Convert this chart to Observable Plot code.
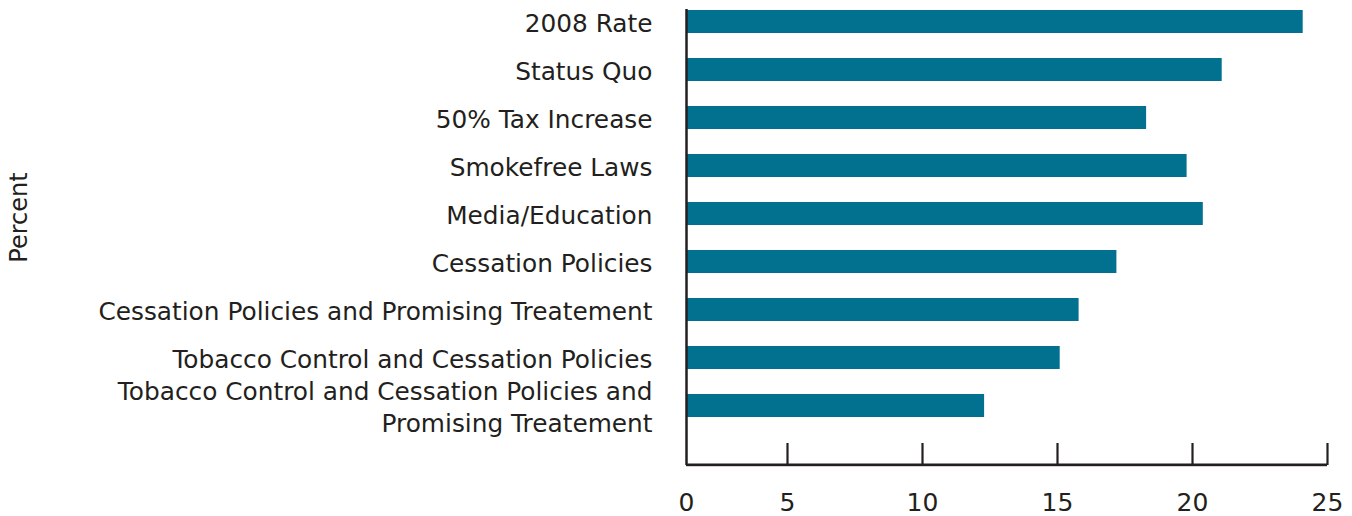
<!DOCTYPE html>
<html><head><meta charset="utf-8">
<script src="https://cdn.jsdelivr.net/npm/d3@7"></script>
<script src="https://cdn.jsdelivr.net/npm/@observablehq/plot@0.6"></script>
<style>html,body{margin:0;padding:0;background:#fff;} svg{display:block}</style>
</head><body><div id="chart"></div>
<script>
// ---- data ----
const categories = [
  "2008 Rate",
  "Status Quo",
  "50% Tax Increase",
  "Smokefree Laws",
  "Media/Education",
  "Cessation Policies",
  "Cessation Policies and Promising Treatement",
  "Tobacco Control and Cessation Policies",
  "Tobacco Control and Cessation Policies and Promising Treatement"
];
const values = [24.1, 21.1, 18.3, 19.8, 20.4, 17.2, 15.8, 15.1, 12.3];
const tickLabels = [
  "2008 Rate",
  "Status Quo",
  "50% Tax Increase",
  "Smokefree Laws",
  "Media/Education",
  "Cessation Policies",
  "Cessation Policies and Promising Treatement",
  "Tobacco Control and Cessation Policies",
  "Tobacco Control and Cessation Policies and\nPromising Treatement"
];
const xTicks = [0, 5, 10, 15, 20, 25];
const axisTitle = "Percent";

const data = categories.map((c, i) => ({category: c, value: values[i]}));
const labelOf = new Map(categories.map((c, i) => [c, tickLabels[i]]));

const W = 1352, H = 516, mL = 686, mR = 25, mT = 9, mB = 51;
const frameH = H - mT - mB;
const ink = "#231f20";
const plot = Plot.plot({
  width: W, height: H,
  marginLeft: mL, marginRight: mR, marginTop: mT, marginBottom: mB,
  style: {fontFamily: "'DejaVu Sans', Verdana, sans-serif", color: ink, background: "#fff", overflow: "visible"},
  x: {type: "linear", domain: [0, 5, 25], range: [mL, W - mR - 20 * 27, W - mR]},
  y: {domain: categories, paddingInner: 0.52, paddingOuter: 0.51, align: 0.02},
  marks: [
    Plot.barX(data, {x: "value", y: "category", fill: "#02718f"}),
    // tick marks pointing up from the baseline
    Plot.ruleX(xTicks.slice(1), {insetTop: frameH - 22, stroke: ink, strokeWidth: 2.2}),
    // baseline (x axis line)
    Plot.rect([xTicks], {x1: d => d[0], x2: d => d[d.length - 1], insetTop: frameH - 1.5, insetBottom: -1.2, fill: ink}),
    // y axis line
    Plot.ruleX([xTicks[0]], {stroke: ink, strokeWidth: 2.5}),
    Plot.axisX({ticks: xTicks, tickSize: 0, tickPadding: 28, fill: ink, fontSize: 25, label: null}),
    Plot.axisY({tickSize: 0, tickPadding: 34, fill: ink, fontSize: 24.8, lineHeight: 1.3, tickFormat: d => labelOf.get(d), label: null}),
    Plot.text([axisTitle], {frameAnchor: "left", textAnchor: "middle", rotate: -90, dx: -667, dy: -20, fontSize: 24, fill: ink})
  ]
});
document.getElementById("chart").appendChild(plot);
</script>
</body></html>
